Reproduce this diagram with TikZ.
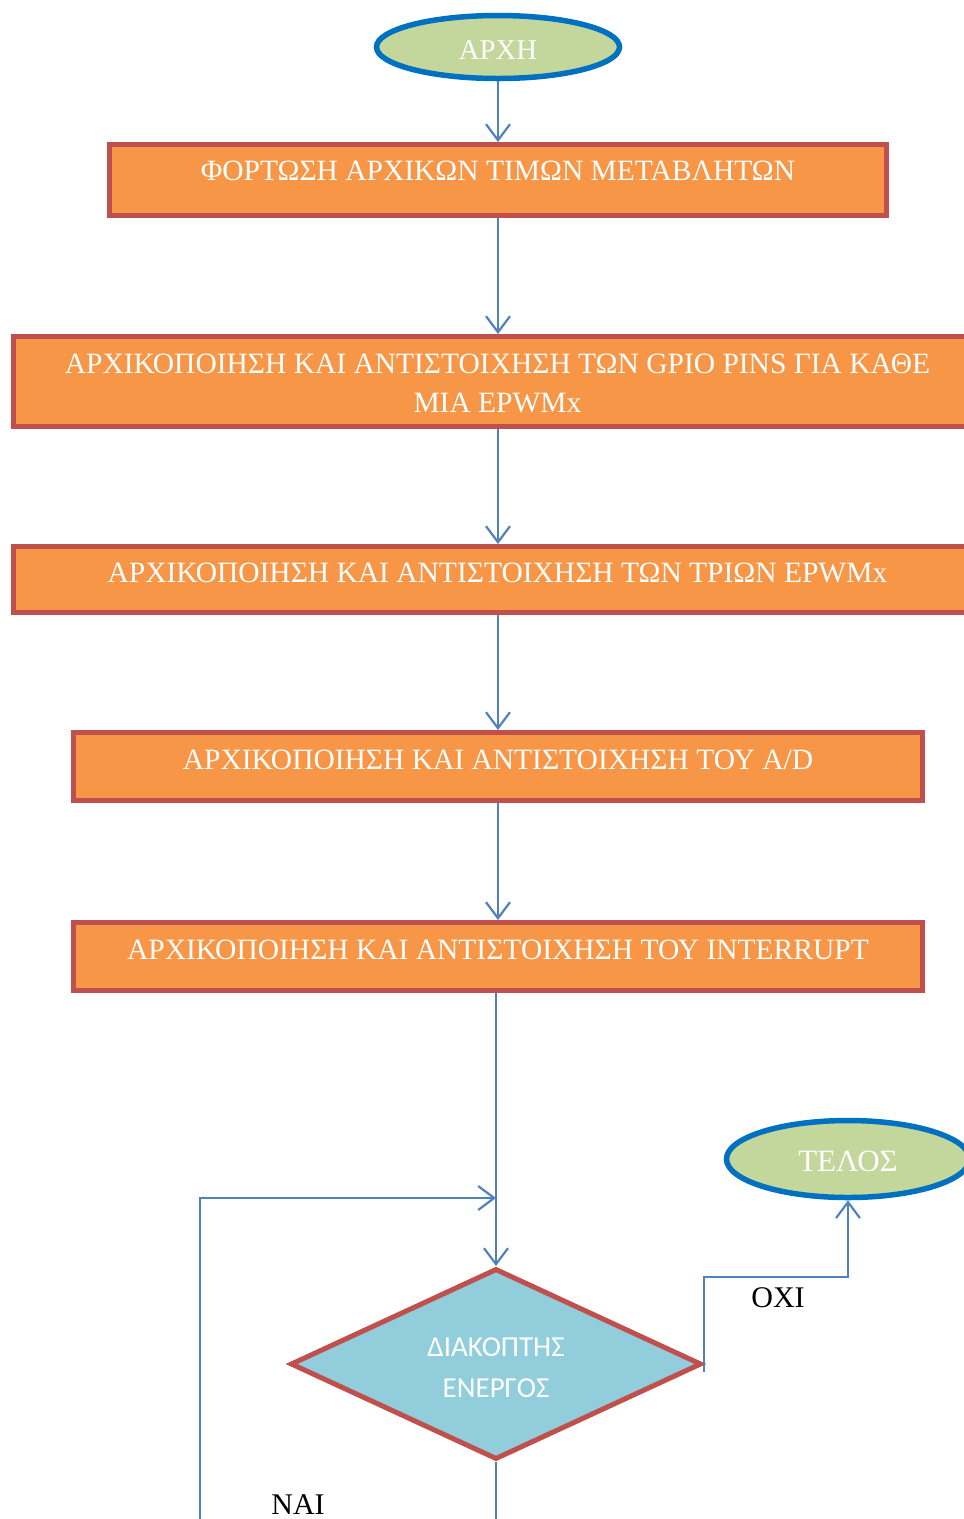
\documentclass[tikz,border=0pt]{standalone}
\usepackage{fontspec}
\setmainfont{Liberation Serif}
\newfontfamily\calfont{Carlito}
\usetikzlibrary{shapes.geometric,arrows.meta,calc}

\definecolor{boxfill}{HTML}{F79646}
\definecolor{boxedge}{HTML}{C0504D}
\definecolor{ovalfill}{HTML}{C3D69B}
\definecolor{ovaledge}{HTML}{0070C0}
\definecolor{flowline}{HTML}{4F81BD}
\definecolor{decfill}{HTML}{92CDDC}

\tikzset{
  stepbox/.style={rectangle, draw=boxedge, fill=boxfill, line width=5pt,
    inner sep=0pt, text=white, font=\fontsize{29.5}{39}\selectfont, align=center},
  terminal/.style={ellipse, draw=ovaledge, fill=ovalfill, line width=5.5pt,
    inner sep=0pt, text=white},
  decision/.style={diamond, draw=boxedge, fill=decfill, line width=5pt,
    inner sep=0pt, text=white, align=center,
    font=\calfont\fontsize{29}{41}\selectfont},
  flow/.style={draw=flowline, line width=2.2pt},
  arr/.style={flow, -{Straight Barb[length=16pt,width=24pt]}},
  answer/.style={text=black, font=\fontsize{30}{36}\selectfont}
}

\begin{document}
\begin{tikzpicture}[x=1pt,y=-1pt]
\useasboundingbox (0,0) rectangle (964,1519);
\clip (0,0) rectangle (964,1519);

% start and end ovals
\node[terminal, minimum width=243pt, minimum height=63pt,
      text height=25pt, text depth=0pt,
      font=\fontsize{28.7}{34}\selectfont] (start) at (498,47) {ΑΡΧΗ};
\node[terminal, minimum width=243pt, minimum height=77pt,
      text height=25pt, text depth=0pt,
      font=\fontsize{31}{37}\selectfont] (end) at (848,1159) {ΤΕΛΟΣ};

% initialisation steps
\node[stepbox, minimum width=777pt, minimum height=71pt,
      text height=18pt, text depth=18pt] (s1) at (498,180)
  {ΦΟΡΤΩΣΗ ΑΡΧΙΚΩΝ ΤΙΜΩΝ ΜΕΤΑΒΛΗΤΩΝ};
\node[stepbox, minimum width=968pt, minimum height=90pt] (s2) at (497.5,381.5)
  {\rule{0pt}{23pt}ΑΡΧΙΚΟΠΟΙΗΣΗ ΚΑΙ ΑΝΤΙΣΤΟΙΧΗΣΗ ΤΩΝ GPIO PINS ΓΙΑ ΚΑΘΕ\\ΜΙΑ EPWMx};
\node[stepbox, minimum width=968pt, minimum height=66pt,
      text height=21pt, text depth=15pt] (s3) at (497.5,579.5)
  {ΑΡΧΙΚΟΠΟΙΗΣΗ ΚΑΙ ΑΝΤΙΣΤΟΙΧΗΣΗ ΤΩΝ ΤΡΙΩΝ EPWMx};
\node[stepbox, minimum width=849pt, minimum height=68pt,
      text height=21pt, text depth=15pt] (s4) at (498,766.5)
  {ΑΡΧΙΚΟΠΟΙΗΣΗ ΚΑΙ ΑΝΤΙΣΤΟΙΧΗΣΗ ΤΟΥ A/D};
\node[stepbox, minimum width=849pt, minimum height=68pt,
      text height=21pt, text depth=15pt] (s5) at (498,956.5)
  {ΑΡΧΙΚΟΠΟΙΗΣΗ ΚΑΙ ΑΝΤΙΣΤΟΙΧΗΣΗ ΤΟΥ INTERRUPT};

% switch test
\node[decision, minimum width=411pt, minimum height=191pt, shape aspect=2.1]
  (dec) at (496,1364) {\rule{0pt}{26pt}ΔΙΑΚΟΠΤΗΣ\\ΕΝΕΡΓΟΣ};

% loop and branch helpers
\coordinate (loopin) at (dec.north |- 0,1198);
\coordinate (loopfoot) at (200,1530);
\coordinate (mainfoot) at (dec.south |- 0,1530);
\coordinate (yesturn) at (704,1277);

% main sequence
\draw[arr] (start.south) -- (start.south |- s1.north);
\draw[arr] (s1.south -| start.south) -- (s2.north -| start.south);
\draw[arr] (s2.south -| start.south) -- (s3.north -| start.south);
\draw[arr] (s3.south -| start.south) -- (s4.north -| start.south);
\draw[arr] (s4.south -| start.south) -- (s5.north -| start.south);
\draw[arr] (s5.south -| dec.north) -- (dec.north);

% return loop
\draw[arr] (loopfoot) |- (loopin);
\draw[flow] (dec.south) -- (mainfoot);

% exit branch
\draw[arr] ($(dec.east)+(0,8)$) -- (yesturn) -| (end.south);

% branch labels
\node[answer] (no) at (778,1298) {ΟΧΙ};
\node[answer] (yes) at (298,1505) {ΝΑΙ};
\end{tikzpicture}
\end{document}
